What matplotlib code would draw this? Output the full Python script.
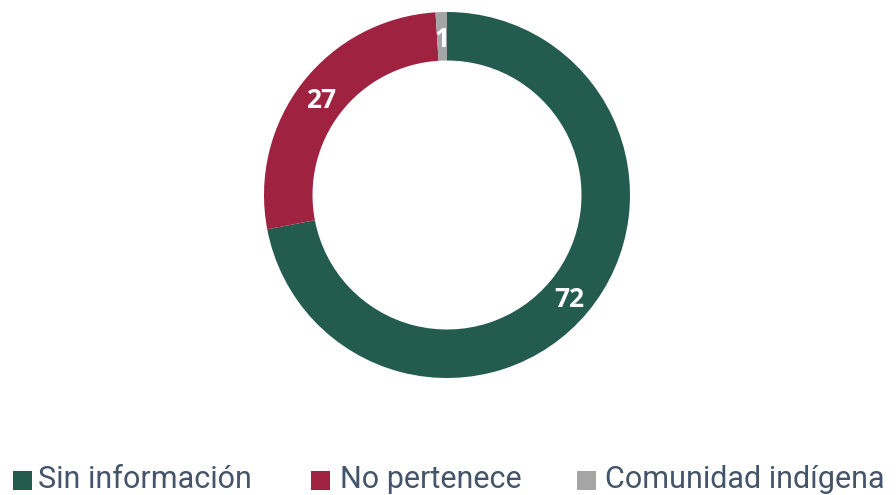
import matplotlib
matplotlib.use("Agg")
import matplotlib.pyplot as plt
from matplotlib.patches import Rectangle
import numpy as np

categories = ["Sin información", "No pertenece", "Comunidad indígena"]
values = [72, 27, 1]
colors = ["#235B4E", "#9F2241", "#A5A5A5"]

W, H = 896, 495
fig = plt.figure(figsize=(W / 100, H / 100), dpi=100)

cx, cy, r = 447, 195, 183
ax = fig.add_axes([(cx - r) / W, (H - cy - r) / H, 2 * r / W, 2 * r / H])
wedges, _ = ax.pie(values, colors=colors, startangle=90, counterclock=False,
                   radius=1.0, wedgeprops=dict(width=0.265, edgecolor="none"))
ax.set_xlim(-1, 1)
ax.set_ylim(-1, 1)
ax.set_aspect("equal")
ax.axis("off")

rm = 1 - 0.265 / 2
for w, v in zip(wedges, values):
    ang = np.deg2rad((w.theta1 + w.theta2) / 2)
    ax.text(rm * np.cos(ang), rm * np.sin(ang), str(v), ha="center", va="center_baseline",
            color="white", fontsize=19, fontweight="bold", family=["Open Sans", "DejaVu Sans"])

# legend
sq_x = [13, 311, 577]
txt_x = [38, 340, 605]
base_y = 488
for c, lab, sx, tx in zip(colors, categories, sq_x, txt_x):
    fig.patches.append(Rectangle((sx / W, (H - 490) / H), 19 / W, 19 / H,
                                 transform=fig.transFigure, facecolor=c, edgecolor="none"))
    fig.text(tx / W, (H - base_y) / H, lab, ha="left", va="baseline", fontsize=22,
             color="#44546A", family=["Roboto", "DejaVu Sans"])

fig.savefig("out.png", dpi=100)
